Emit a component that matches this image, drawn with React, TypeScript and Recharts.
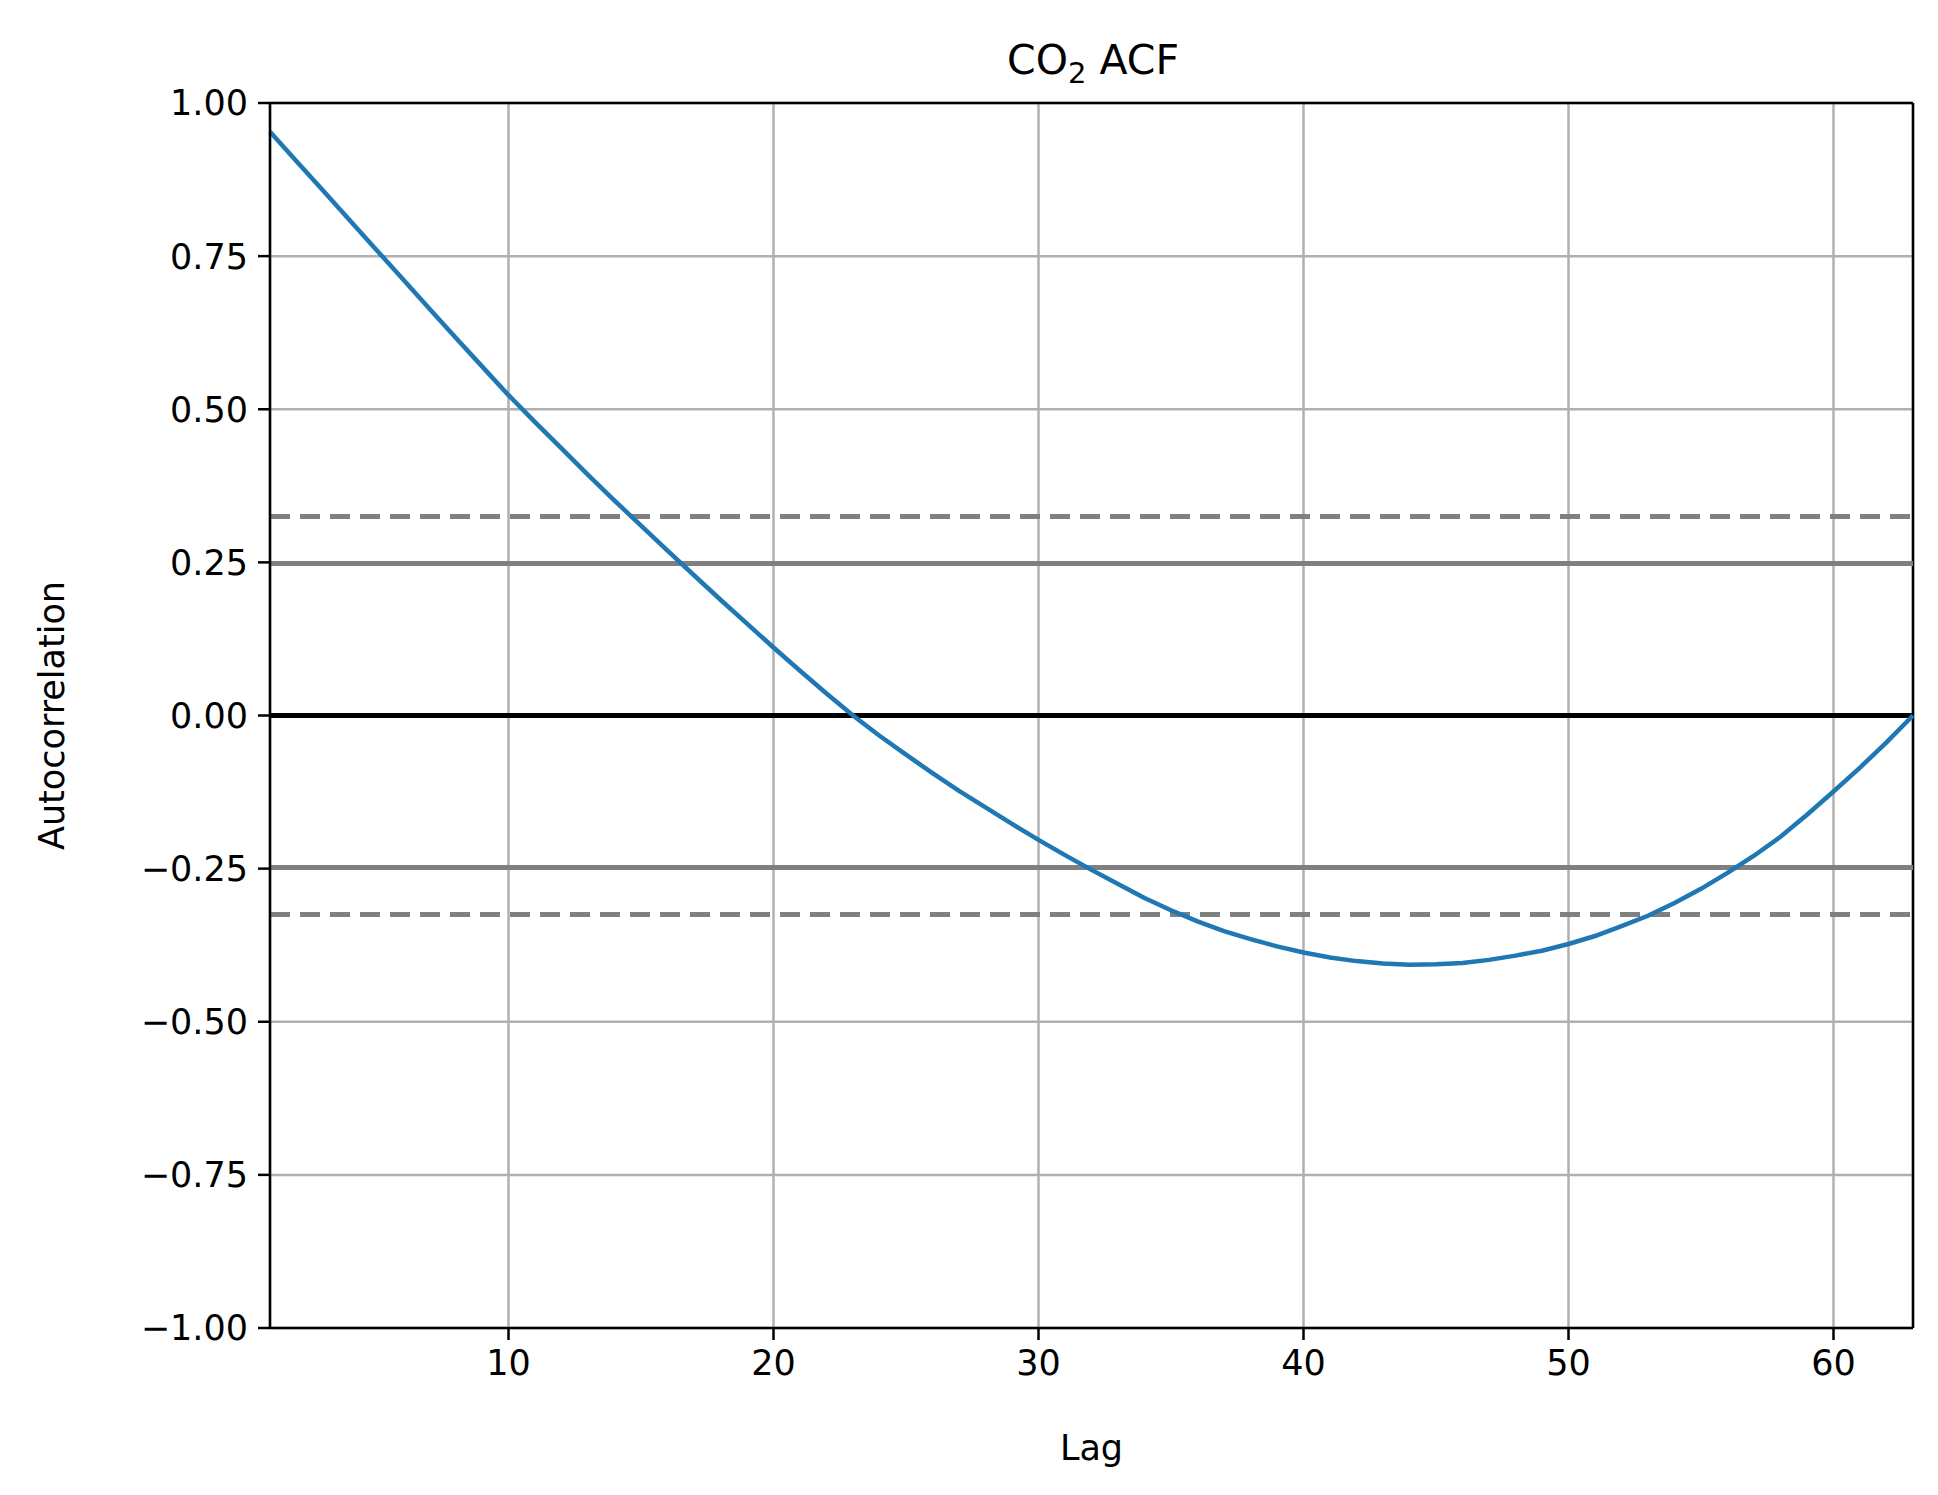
import { CartesianGrid, Label, Line, LineChart, ReferenceLine, XAxis, YAxis } from 'recharts'

const lags = Array.from({ length: 63 }, (_, i) => i + 1)
const acfValues = [
  0.953, 0.905, 0.857, 0.809, 0.761, 0.713, 0.665, 0.617, 0.57, 0.523,
  0.479, 0.436, 0.393, 0.351, 0.31, 0.269, 0.229, 0.189, 0.15, 0.111,
  0.073, 0.036, 0.0, -0.033, -0.064, -0.094, -0.123, -0.15, -0.177, -0.203,
  -0.228, -0.252, -0.275, -0.298, -0.318, -0.336, -0.352, -0.365, -0.377, -0.387,
  -0.395, -0.401, -0.405, -0.407, -0.406, -0.404, -0.399, -0.392, -0.384, -0.373,
  -0.36, -0.344, -0.327, -0.306, -0.283, -0.257, -0.229, -0.198, -0.162, -0.124,
  -0.085, -0.044, 0.0,
]
const xTicks = [10, 20, 30, 40, 50, 60]
const yTicks = [-1, -0.75, -0.5, -0.25, 0, 0.25, 0.5, 0.75, 1]
const band95 = 0.248
const band99 = 0.325

const data = lags.map((lag, i) => ({ lag, acf: acfValues[i] }))

const font = { fontFamily: 'DejaVu Sans', fontSize: 35, fill: '#000' }

export default function App() {
  return (
    <div style={{ position: 'relative', width: 1930, height: 1480, fontFamily: 'DejaVu Sans' }}>
      <div style={{ position: 'absolute', top: 28, left: 1085, fontSize: 41, transform: 'translateX(-50%)', whiteSpace: 'nowrap' }}>
        CO<sub style={{ fontSize: 29 }}>2</sub> ACF
      </div>
      <LineChart width={1930} height={1480} data={data} margin={{ top: 95, right: 25, left: 0, bottom: 36 }}>
        <CartesianGrid stroke="#b0b0b0" strokeWidth={2.5} />
        <XAxis
          dataKey="lag"
          type="number"
          domain={[1, 63]}
          ticks={xTicks}
          height={124}
          tick={font}
          stroke="#000"
          strokeWidth={2.5}
          tickSize={12}
          tickMargin={10}
        >
          <Label value="Lag" position="insideBottom" offset={-8} style={font} />
        </XAxis>
        <YAxis
          type="number"
          domain={[-1, 1]}
          ticks={yTicks}
          width={262}
          tick={font}
          tickFormatter={(v: number) => v.toFixed(2).replace('-', '\u2212')}
          stroke="#000"
          strokeWidth={2.5}
          tickSize={12}
          tickMargin={10}
        >
          <Label value="Autocorrelation" angle={-90} position="insideLeft" offset={44} style={{ ...font, textAnchor: 'middle' }} />
        </YAxis>
        <ReferenceLine y={1} stroke="#000" strokeWidth={2.5} />
        <ReferenceLine x={63} stroke="#000" strokeWidth={2.5} />
        <ReferenceLine y={band99} stroke="#808080" strokeWidth={5} strokeDasharray="20 10" />
        <ReferenceLine y={band95} stroke="#808080" strokeWidth={5} />
        <ReferenceLine y={0} stroke="#000" strokeWidth={5} />
        <ReferenceLine y={-band95} stroke="#808080" strokeWidth={5} />
        <ReferenceLine y={-band99} stroke="#808080" strokeWidth={5} strokeDasharray="20 10" />
        <Line dataKey="acf" stroke="#1f77b4" strokeWidth={4.5} dot={false} isAnimationActive={false} type="linear" />
      </LineChart>
    </div>
  )
}
